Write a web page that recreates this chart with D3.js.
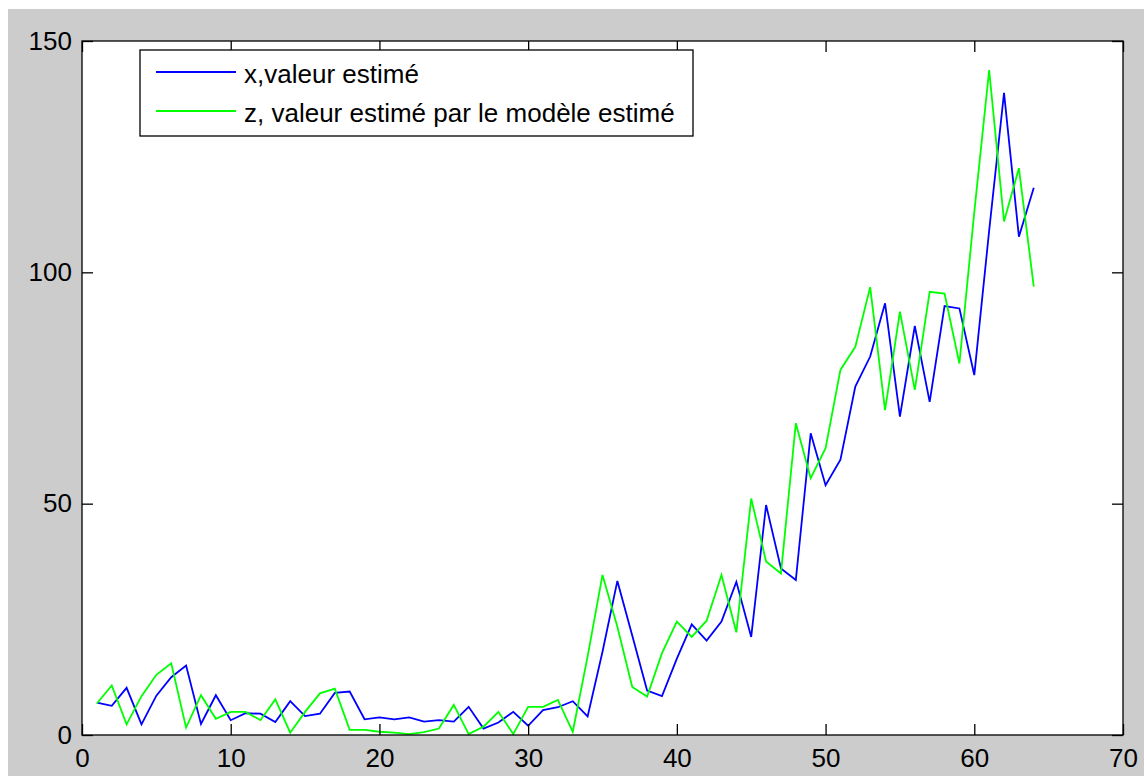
<!DOCTYPE html>
<html>
<head>
<meta charset="utf-8">
<script src="https://d3js.org/d3.v7.min.js"></script>
<style>
	body { margin: 0; background: #fff; }
	svg { display: block; }
	text { font-family: "Liberation Sans", Arial, sans-serif; fill: #000; }
</style>
</head>
<body>
<svg id="chart" width="1144" height="776"></svg>
<script>
"use strict";

var x_ticks = [0, 10, 20, 30, 40, 50, 60, 70],
	y_ticks = [0, 50, 100, 150];

var legend_labels = ["x,valeur estimé", "z, valeur estimé par le modèle estimé"],
	series_colors = ["#0000ff", "#00ff00"];

//x, valeur estimé (blue), t = 1..64
var x_values = [7, 6.3, 10.2, 2.3, 8.5, 12.5, 15, 2.4, 8.6, 3.2,
	4.7, 4.6, 2.8, 7.3, 4.1, 4.6, 9.1, 9.4, 3.4, 3.8,
	3.4, 3.8, 2.9, 3.2, 2.9, 6.1, 1.4, 2.7, 5, 2,
	5.4, 6, 7.3, 4, 18, 33.3, 21.5, 9.6, 8.4, 16.5,
	23.9, 20.4, 24.5, 33.1, 21.2, 49.7, 36, 33.5, 65.2, 54,
	59.5, 75.3, 81.8, 93.3, 68.8, 88.4, 72, 92.7, 92.2, 77.8,
	109, 138.8, 107.7, 118.3];

//z, valeur estimé par le modèle (green)
var z_values = [6.8, 10.7, 2.3, 8.4, 13, 15.5, 1.6, 8.6, 3.5, 5,
	5, 3.2, 7.7, 0.5, 5, 9, 10, 1.1, 1.1, 0.7,
	0.5, 0.2, 0.6, 1.4, 6.5, 0.2, 1.8, 5, 0.2, 6.1,
	6.1, 7.6, 0.7, 17, 34.6, 23.4, 10.4, 8.3, 17.7, 24.5,
	21.2, 24.7, 34.6, 22.2, 51.1, 37.5, 34.9, 67.4, 55.5, 62,
	78.9, 83.9, 96.8, 70.2, 91.5, 74.6, 95.8, 95.4, 80.3, 113,
	143.7, 111, 122.5, 96.9];

var plot_left = 82,
	plot_right = 1123,
	plot_top = 41,
	plot_bottom = 735,
	tick_len = 11;

var svg = d3.select("#chart");

//matlab grey figure, thin white strip top/left like the screenshot
svg.append("rect").attr("x", 8).attr("y", 9).attr("width", 1136).attr("height", 767).attr("fill", "#cccccc");

var x = d3.scaleLinear().domain([0, 70]).range([plot_left, plot_right]);
var y = d3.scaleLinear().domain([0, 150]).range([plot_bottom, plot_top]);

svg.append("rect")
	.attr("x", plot_left).attr("y", plot_top)
	.attr("width", plot_right - plot_left).attr("height", plot_bottom - plot_top)
	.attr("fill", "#fff");

//lines
var line = d3.line()
	.x(function(d, i) { return x(i + 1); })
	.y(function(d) { return y(d); });

[x_values, z_values].forEach(function(vals, k) {
	svg.append("path")
		.datum(vals)
		.attr("d", line)
		.attr("fill", "none")
		.attr("stroke", series_colors[k])
		.attr("stroke-width", 1.8)
		.attr("stroke-linejoin", "miter");
});

//axes, ticks pointing inwards on all four sides
var axis_font = function(g) {
	g.select(".domain").remove();
	g.selectAll(".tick line").attr("stroke", "#000");
	g.selectAll(".tick text").style("font-size", "26px").attr("fill", "#000");
};

svg.append("g")
	.attr("transform", "translate(0," + plot_bottom + ")")
	.call(d3.axisBottom(x).tickValues(x_ticks).tickSizeInner(-tick_len).tickSizeOuter(0).tickPadding(14))
	.call(axis_font)
	.selectAll(".tick text").attr("dy", "0.71em");

svg.append("g")
	.attr("transform", "translate(0," + plot_top + ")")
	.call(d3.axisTop(x).tickValues(x_ticks).tickSizeInner(-tick_len).tickSizeOuter(0).tickFormat(""))
	.call(axis_font);

svg.append("g")
	.attr("transform", "translate(" + plot_left + ",0)")
	.call(d3.axisLeft(y).tickValues(y_ticks).tickSizeInner(-tick_len).tickSizeOuter(0).tickPadding(10))
	.call(axis_font);

svg.append("g")
	.attr("transform", "translate(" + plot_right + ",0)")
	.call(d3.axisRight(y).tickValues(y_ticks).tickSizeInner(-tick_len).tickSizeOuter(0).tickFormat(""))
	.call(axis_font);

svg.selectAll(".tick line").attr("stroke-width", 1.3);

//box
svg.append("rect")
	.attr("x", plot_left).attr("y", plot_top)
	.attr("width", plot_right - plot_left).attr("height", plot_bottom - plot_top)
	.attr("fill", "none").attr("stroke", "#000").attr("stroke-width", 1.3);

//legend
var legend = svg.append("g");
legend.append("rect")
	.attr("x", 140).attr("y", 50).attr("width", 553).attr("height", 86)
	.attr("fill", "#fff").attr("stroke", "#000").attr("stroke-width", 1.3);

legend_labels.forEach(function(lbl, k) {
	var ly = 72 + k * 39;
	legend.append("line")
		.attr("x1", 156).attr("x2", 236)
		.attr("y1", ly).attr("y2", ly)
		.attr("stroke", series_colors[k]).attr("stroke-width", 1.8);
	legend.append("text")
		.attr("x", 244).attr("y", ly + 11)
		.style("font-size", "26px")
		.text(lbl);
});
</script>
</body>
</html>
